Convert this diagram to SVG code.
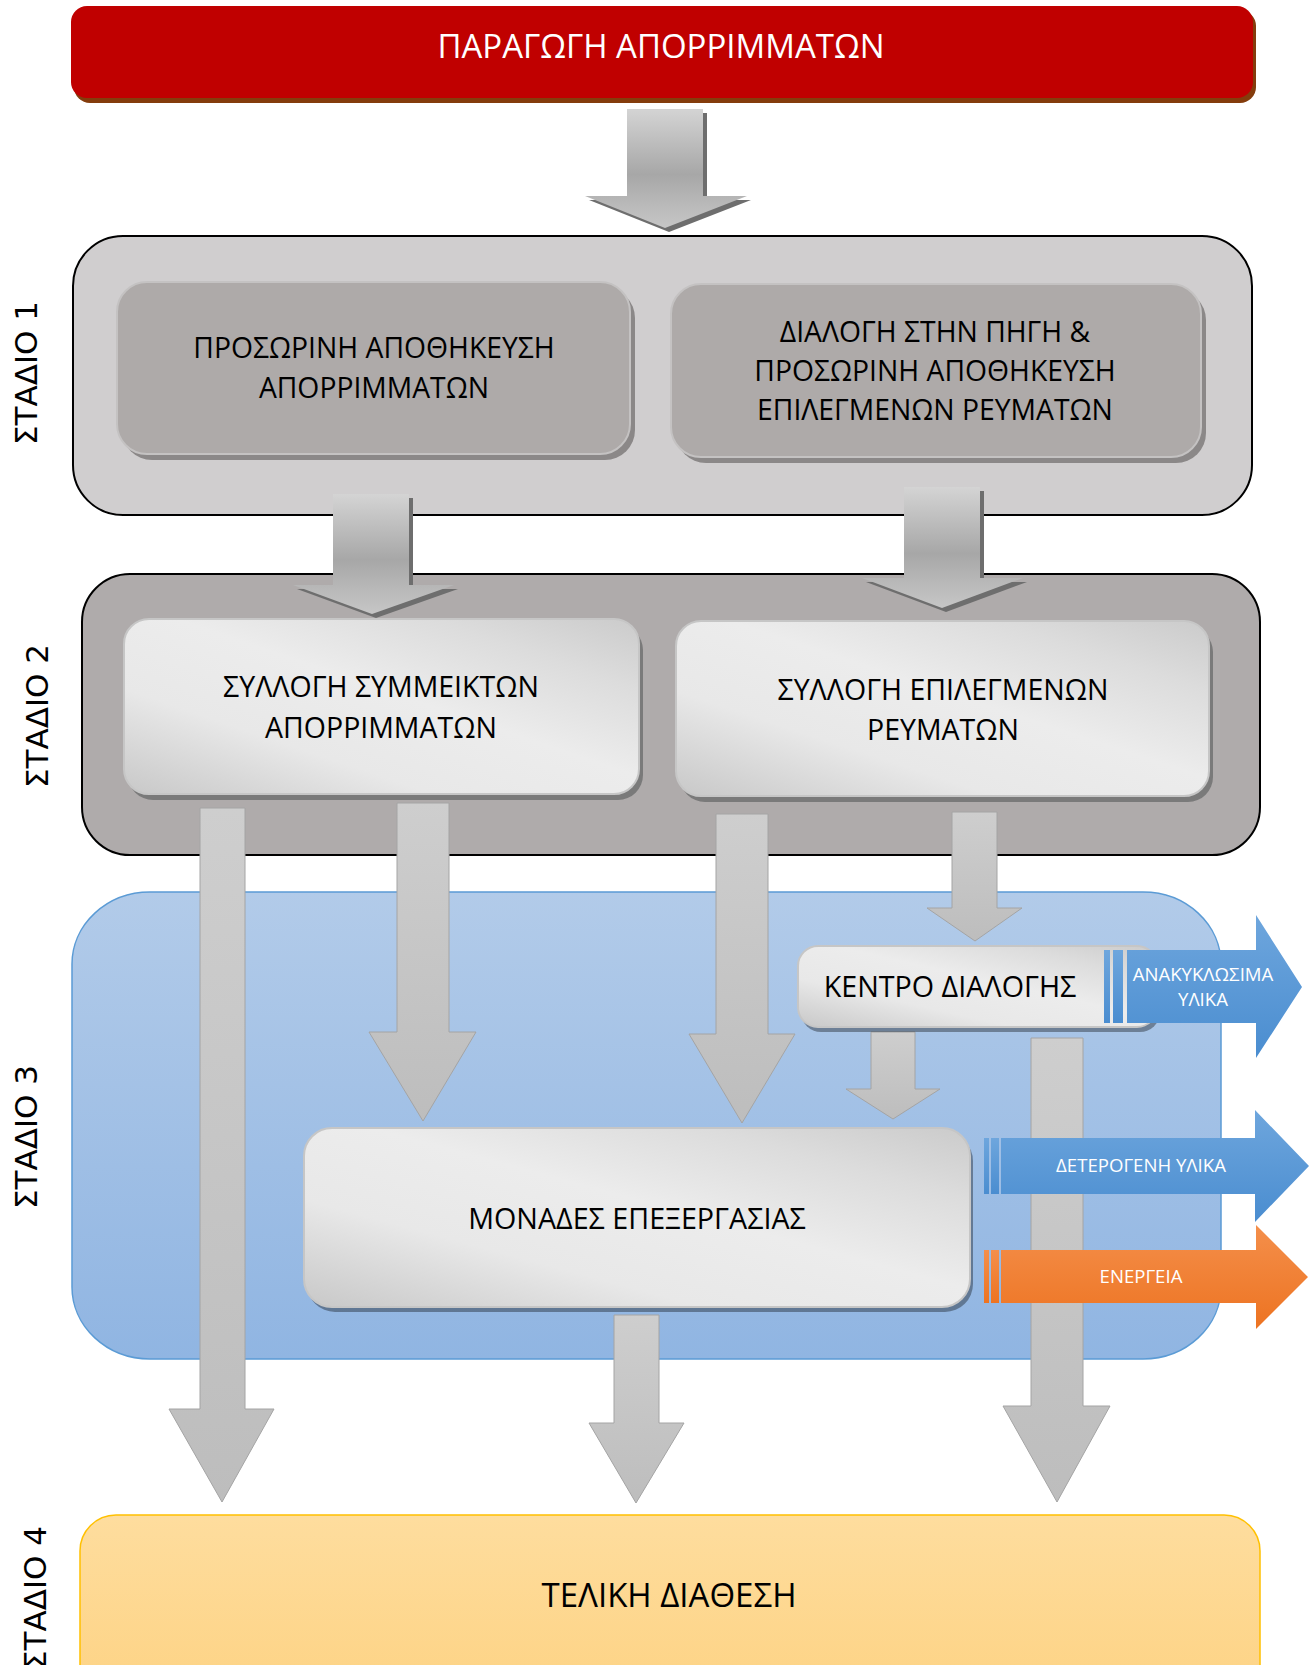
<svg xmlns="http://www.w3.org/2000/svg" width="1309" height="1665" viewBox="0 0 1309 1665">
<defs>
<style>
.lbl{font-family:"Open Sans","Noto Sans","Liberation Sans",sans-serif;fill:#000;text-anchor:middle}
.wl{font-family:"Open Sans","Noto Sans","Liberation Sans",sans-serif;fill:#fff;text-anchor:middle}
.stage{font-family:"DejaVu Sans","Liberation Sans",sans-serif;font-size:31px;fill:#000;text-anchor:middle}
.ga{fill:url(#gArrow3);stroke:#a4a4a4;stroke-width:1}
.bev{fill:url(#gBevel)}
.bevsh{fill:#6e6e6e}
</style>
<linearGradient id="gBevel" x1="0" y1="0" x2="0" y2="1">
<stop offset="0" stop-color="#d4d4d4"/>
<stop offset="0.55" stop-color="#a7a7a7"/>
<stop offset="0.8" stop-color="#b9b9b9"/>
<stop offset="1" stop-color="#c6c6c6"/>
</linearGradient>
<linearGradient id="gArrow3" x1="0" y1="0" x2="0" y2="1">
<stop offset="0" stop-color="#cecece"/>
<stop offset="1" stop-color="#bdbdbd"/>
</linearGradient>
<linearGradient id="gBox" x1="0" y1="1" x2="1" y2="0">
<stop offset="0" stop-color="#c8c8c8"/>
<stop offset="0.3" stop-color="#e8e8e8"/>
<stop offset="0.55" stop-color="#ececec"/>
<stop offset="0.8" stop-color="#dcdcdc"/>
<stop offset="1" stop-color="#cbcbcb"/>
</linearGradient>
<linearGradient id="gBlueBg" x1="0" y1="0" x2="0" y2="1">
<stop offset="0" stop-color="#b2cbe9"/>
<stop offset="1" stop-color="#90b5e2"/>
</linearGradient>
<linearGradient id="gOrangeBg" x1="0" y1="0" x2="0" y2="1">
<stop offset="0" stop-color="#fedd9e"/>
<stop offset="1" stop-color="#fdd17f"/>
</linearGradient>
<linearGradient id="gBlue" x1="0" y1="0" x2="0" y2="1">
<stop offset="0" stop-color="#6ea6dd"/>
<stop offset="1" stop-color="#4a8dd0"/>
</linearGradient>
<linearGradient id="gOrange" x1="0" y1="0" x2="0" y2="1">
<stop offset="0" stop-color="#f48f4b"/>
<stop offset="1" stop-color="#ed7321"/>
</linearGradient>
</defs>

<rect width="1309" height="1665" fill="#fff"/>

<!-- stage containers -->
<g id="stage1-container">
<rect x="73" y="236" width="1179" height="279" rx="50" ry="50" fill="#d0cecf" stroke="#000" stroke-width="2"/>
</g>
<g id="stage2-container">
<rect x="82" y="574" width="1178" height="281" rx="48" ry="48" fill="#afabab" stroke="#000" stroke-width="2"/>
</g>
<g id="stage3-container">
<rect x="72" y="892" width="1149" height="467" rx="78" ry="72" fill="url(#gBlueBg)" stroke="#5b9bd5" stroke-width="1.5"/>
</g>
<g id="stage4-container">
<rect x="80" y="1515" width="1180" height="220" rx="36" ry="36" fill="url(#gOrangeBg)" stroke="#ffc000" stroke-width="1.5"/>
</g>

<!-- stage labels -->
<g id="stage-labels">
<text class="stage" transform="translate(37,373) rotate(-90)">ΣΤΑΔΙΟ 1</text>
<text class="stage" transform="translate(48,716) rotate(-90)">ΣΤΑΔΙΟ 2</text>
<text class="stage" transform="translate(37,1137) rotate(-90)">ΣΤΑΔΙΟ 3</text>
<text class="stage" transform="translate(46,1598) rotate(-90)">ΣΤΑΔΙΟ 4</text>
</g>

<!-- top node -->
<g id="node-production">
<rect x="74" y="10" width="1182" height="93" rx="16" fill="#843c0c"/>
<rect x="71" y="6" width="1182" height="92" rx="16" fill="#c00000"/>
<text class="wl" x="661" y="58" font-size="33">ΠΑΡΑΓΩΓΗ ΑΠΟΡΡΙΜΜΑΤΩΝ</text>
</g>

<!-- stage 1 nodes -->
<g id="node-temp-storage">
<rect x="122" y="288" width="513" height="172" rx="30" fill="#8b8888"/>
<rect x="117" y="282" width="513" height="172" rx="30" fill="#aeaaa9" stroke="#c4c2c2" stroke-width="2"/>
<text class="lbl" x="374" y="358" font-size="28.3">ΠΡΟΣΩΡΙΝΗ ΑΠΟΘΗΚΕΥΣΗ</text>
<text class="lbl" x="374" y="398" font-size="28.3">ΑΠΟΡΡΙΜΜΑΤΩΝ</text>
</g>
<g id="node-source-sorting">
<rect x="676" y="290" width="530" height="173" rx="30" fill="#8b8888"/>
<rect x="671" y="284" width="530" height="173" rx="30" fill="#aeaaa9" stroke="#c4c2c2" stroke-width="2"/>
<text class="lbl" x="935" y="342" font-size="28.3">ΔΙΑΛΟΓΗ ΣΤΗΝ ΠΗΓΗ &amp;</text>
<text class="lbl" x="935" y="381" font-size="28.3">ΠΡΟΣΩΡΙΝΗ ΑΠΟΘΗΚΕΥΣΗ</text>
<text class="lbl" x="935" y="420" font-size="28.3">ΕΠΙΛΕΓΜΕΝΩΝ ΡΕΥΜΑΤΩΝ</text>
</g>

<!-- stage 2 nodes -->
<g id="node-mixed-collection">
<rect x="128" y="625" width="515" height="175" rx="25" fill="#7a7a7a"/>
<rect x="124" y="619" width="515" height="175" rx="25" fill="url(#gBox)" stroke="#c6c6c6" stroke-width="2"/>
<text class="lbl" x="381" y="697" font-size="28.5">ΣΥΛΛΟΓΗ ΣΥΜΜΕΙΚΤΩΝ</text>
<text class="lbl" x="381" y="738" font-size="28.5">ΑΠΟΡΡΙΜΜΑΤΩΝ</text>
</g>
<g id="node-selected-collection">
<rect x="680" y="627" width="533" height="175" rx="25" fill="#7a7a7a"/>
<rect x="676" y="621" width="533" height="175" rx="25" fill="url(#gBox)" stroke="#c6c6c6" stroke-width="2"/>
<text class="lbl" x="943" y="700" font-size="28.5">ΣΥΛΛΟΓΗ ΕΠΙΛΕΓΜΕΝΩΝ</text>
<text class="lbl" x="943" y="740" font-size="28.5">ΡΕΥΜΑΤΩΝ</text>
</g>

<!-- connectors -->
<g id="connectors">
<polygon class="bevsh" points="631,113 707,113 707,200 751,200 669,232 589,200 631,200"/>
<polygon class="bev" points="627,109 703,109 703,196 747,196 665,228 585,196 627,196"/>
<polygon class="bevsh" points="337,498 413,498 413,589 458,589 376,618 297,589 337,589"/>
<polygon class="bev" points="333,494 409,494 409,585 454,585 372,614 293,585 333,585"/>
<polygon class="bevsh" points="908,491 984,491 984,582 1027,582 946,612 866,582 908,582"/>
<polygon class="bev" points="904,487 980,487 980,578 1023,578 942,608 862,578 904,578"/>
<polygon class="ga" points="200,808 245,808 245,1409 274,1409 222,1502 169,1409 200,1409"/>
<polygon class="ga" points="397,803 449,803 449,1032 476,1032 423,1121 369,1032 397,1032"/>
<polygon class="ga" points="716,814 768,814 768,1034 795,1034 742,1123 689,1034 716,1034"/>
<polygon class="ga" points="952,812 997,812 997,908 1022,908 975,941 927,908 952,908"/>
<polygon class="ga" points="871,1032 915,1032 915,1089 940,1089 893,1119 846,1089 871,1089"/>
<polygon class="ga" points="1031,1038 1083,1038 1083,1406 1110,1406 1057,1502 1003,1406 1031,1406"/>
<polygon class="ga" points="614,1315 659,1315 659,1423 684,1423 636,1503 589,1423 614,1423"/>
</g>

<!-- stage 3 nodes -->
<g id="node-sorting-center">
<rect x="801" y="951" width="359" height="81" rx="20" fill="#000" fill-opacity="0.35"/>
<rect x="798" y="946" width="359" height="81" rx="20" fill="url(#gBox)" stroke="#c6c6c6" stroke-width="2"/>
<text class="lbl" x="950" y="997" font-size="28.7">ΚΕΝΤΡΟ ΔΙΑΛΟΓΗΣ</text>
</g>
<g id="node-processing">
<rect x="307" y="1133" width="666" height="179" rx="28" fill="#000" fill-opacity="0.35"/>
<rect x="304" y="1128" width="666" height="179" rx="28" fill="url(#gBox)" stroke="#c6c6c6" stroke-width="2"/>
<text class="lbl" x="637" y="1229" font-size="28.7">ΜΟΝΑΔΕΣ ΕΠΕΞΕΡΓΑΣΙΑΣ</text>
</g>

<!-- output arrows -->
<g id="out-recyclables">
<rect x="1104" y="950" width="6" height="73" fill="url(#gBlue)"/>
<rect x="1113" y="950" width="10" height="73" fill="url(#gBlue)"/>
<polygon points="1127,950 1256,950 1256,915 1302,987 1256,1058 1256,1023 1127,1023" fill="url(#gBlue)"/>
<text class="wl" x="1203" y="981" font-size="18.6">ΑΝΑΚΥΚΛΩΣΙΜΑ</text>
<text class="wl" x="1203" y="1006" font-size="18.6">ΥΛΙΚΑ</text>
</g>
<g id="out-secondary">
<rect x="984" y="1138" width="5" height="56" fill="url(#gBlue)"/>
<rect x="991" y="1138" width="8" height="56" fill="url(#gBlue)"/>
<polygon points="1001,1138 1255,1138 1255,1110 1309,1166 1255,1222 1255,1194 1001,1194" fill="url(#gBlue)"/>
<text class="wl" x="1141" y="1172" font-size="18.6">ΔΕΤΕΡΟΓΕΝΗ ΥΛΙΚΑ</text>
</g>
<g id="out-energy">
<rect x="984" y="1250" width="5" height="53" fill="url(#gOrange)"/>
<rect x="991" y="1250" width="8" height="53" fill="url(#gOrange)"/>
<polygon points="1001,1250 1256,1250 1256,1225 1308,1277 1256,1329 1256,1303 1001,1303" fill="url(#gOrange)"/>
<text class="wl" x="1141" y="1283" font-size="18.6">ΕΝΕΡΓΕΙΑ</text>
</g>

<!-- stage 4 node -->
<g id="node-final-disposal">
<text class="lbl" x="669" y="1607" font-size="33">ΤΕΛΙΚΗ ΔΙΑΘΕΣΗ</text>
</g>
</svg>
